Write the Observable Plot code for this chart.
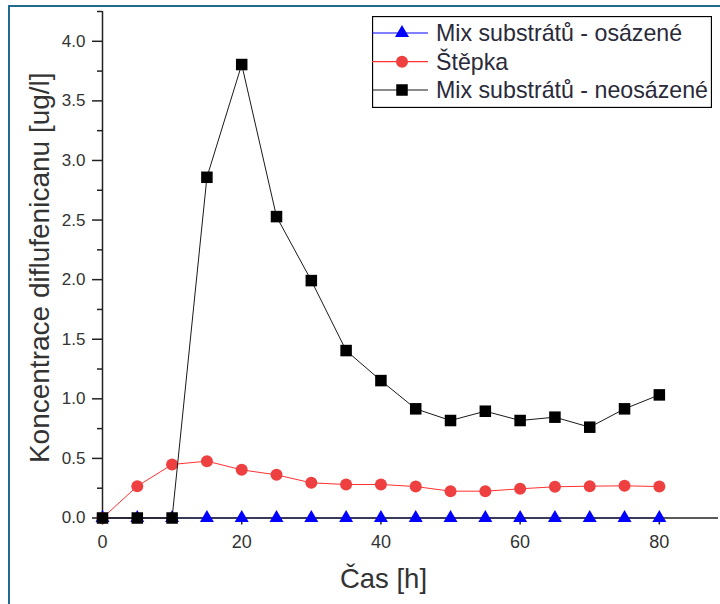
<!DOCTYPE html>
<html><head><meta charset="utf-8">
<script src="https://cdn.jsdelivr.net/npm/d3@7"></script>
<script src="https://cdn.jsdelivr.net/npm/@observablehq/plot@0.6"></script>
<style>
body{margin:0;background:#fff;font-family:Arial,"Liberation Sans",sans-serif;}
#wrap{position:relative;width:720px;height:604px;overflow:hidden;}
#frame{position:absolute;left:8px;top:5px;width:730px;height:620px;border-left:2px solid #236b8e;border-top:2px solid #236b8e;}
#chart{position:absolute;left:0;top:0;}
#legend{position:absolute;left:372px;top:16px;}
</style></head><body>
<div id="wrap"><div id="frame"></div><div id="chart"></div><div id="legend"></div></div>
<script>
const time = [0,5,10,15,20,25,30,35,40,45,50,55,60,65,70,75,80];
const osazene = [0,0,0,0,0,0,0,0,0,0,0,0,0,0,0,0,0];
const stepka = [0,0.267,0.449,0.477,0.404,0.362,0.295,0.281,0.281,0.264,0.225,0.225,0.245,0.262,0.267,0.270,0.264];
const neosazene = [0,0,0,2.859,3.805,2.529,1.992,1.405,1.153,0.916,0.818,0.896,0.818,0.846,0.762,0.916,1.033];
const seriesNames = ["Mix substrátů - osázené","Štěpka","Mix substrátů - neosázené"];
const seriesColors = ["#0000ff","#ee4040","#000000"];
const lineColors = ["#0000ff","#ff3030","#1a1a1a"];
const seriesSymbols = ["triangle","circle","square"];
const yMajor = [0,0.5,1,1.5,2,2.5,3,3.5,4];
const yMinor = [0.25,0.75,1.25,1.75,2.25,2.75,3.25,3.75,4.25];
const xTicks = [0,20,40,60,80];
const xLabel = "Čas [h]";
const yLabel = "Koncentrace diflufenicanu [ug/l]";

const rows = time.map((t,i)=>({t, a:osazene[i], b:stepka[i], c:neosazene[i]}));
const font = "Arial, 'Liberation Sans', sans-serif";
const symR = {triangle:5.2, circle:6, square:6.5};

const chart = Plot.plot({
  width:720, height:604,
  marginLeft:102, marginRight:2, marginTop:11, marginBottom:86.5,
  x:{domain:[0,88.5]},
  y:{domain:[0,4.25]},
  style:{fontFamily:font, fontSize:"17px", color:"#333", background:"transparent"},
  marks:[
    Plot.lineY(rows,{x:"t",y:"a",stroke:lineColors[0],strokeWidth:1}),
    Plot.ruleY([0],{stroke:"#222",strokeWidth:1.5}),
    Plot.ruleX([0],{stroke:"#222",strokeWidth:1.5}),
    Plot.axisY({ticks:yMajor, tickSize:10, tickPadding:7, tickFormat:d3.format(".1f"), label:null, stroke:"#222", strokeWidth:1.5, fill:"#333"}),
    Plot.axisY({ticks:yMinor, tickSize:5, tickFormat:()=>"", label:null, stroke:"#222", strokeWidth:1.5}),
    Plot.axisX({ticks:xTicks, tickSize:7, tickPadding:10, label:null, stroke:"#222", strokeWidth:1.5, fill:"#333", fontSize:18}),
    Plot.dot(rows,{x:"t",y:"a",symbol:"triangle",r:symR.triangle,fill:seriesColors[0]}),
    Plot.lineY(rows,{x:"t",y:"b",stroke:lineColors[1],strokeWidth:1}),
    Plot.dot(rows,{x:"t",y:"b",symbol:"circle",r:symR.circle,fill:seriesColors[1]}),
    Plot.lineY(rows,{x:"t",y:"c",stroke:lineColors[2],strokeWidth:1}),
    Plot.dot(rows,{x:"t",y:"c",symbol:"square",r:symR.square,fill:seriesColors[2]}),
    Plot.text([xLabel],{frameAnchor:"bottom", textAnchor:"middle", dx:-27, dy:61, lineAnchor:"middle", fontSize:27.5, fill:"#333"}),
    Plot.text([yLabel],{frameAnchor:"left", textAnchor:"middle", dx:-62, dy:3, rotate:-90, lineAnchor:"middle", fontSize:28, fill:"#333"})
  ]
});
document.getElementById("chart").appendChild(chart);

// legend
const lw = 340, lh = 92;
const lg = d3.select("#legend").append("svg").attr("width",lw).attr("height",lh);
lg.append("rect").attr("x",0.5).attr("y",0.5).attr("width",lw-1).attr("height",lh-1)
  .attr("fill","#fff").attr("stroke","#000").attr("stroke-width",1.3);
const rowY = [17, 45.7, 74];
const symMap = {triangle:d3.symbolTriangle, circle:d3.symbolCircle, square:d3.symbolSquare};
seriesNames.forEach((name,i)=>{
  const g = lg.append("g").attr("transform",`translate(0,${rowY[i]})`);
  g.append("line").attr("x1",0).attr("x2",56).attr("y1",0).attr("y2",0).attr("stroke",lineColors[i]).attr("stroke-width",1.2);
  const r = symR[seriesSymbols[i]];
  g.append("path").attr("d",d3.symbol(symMap[seriesSymbols[i]], r*r*Math.PI)()).attr("transform","translate(30,0)").attr("fill",seriesColors[i]);
  g.append("text").attr("x",64).attr("y",0).attr("dy","0.35em").attr("font-family",font).attr("font-size",23.2).attr("fill","#2a2a3a").text(name);
});
</script>
</body></html>
